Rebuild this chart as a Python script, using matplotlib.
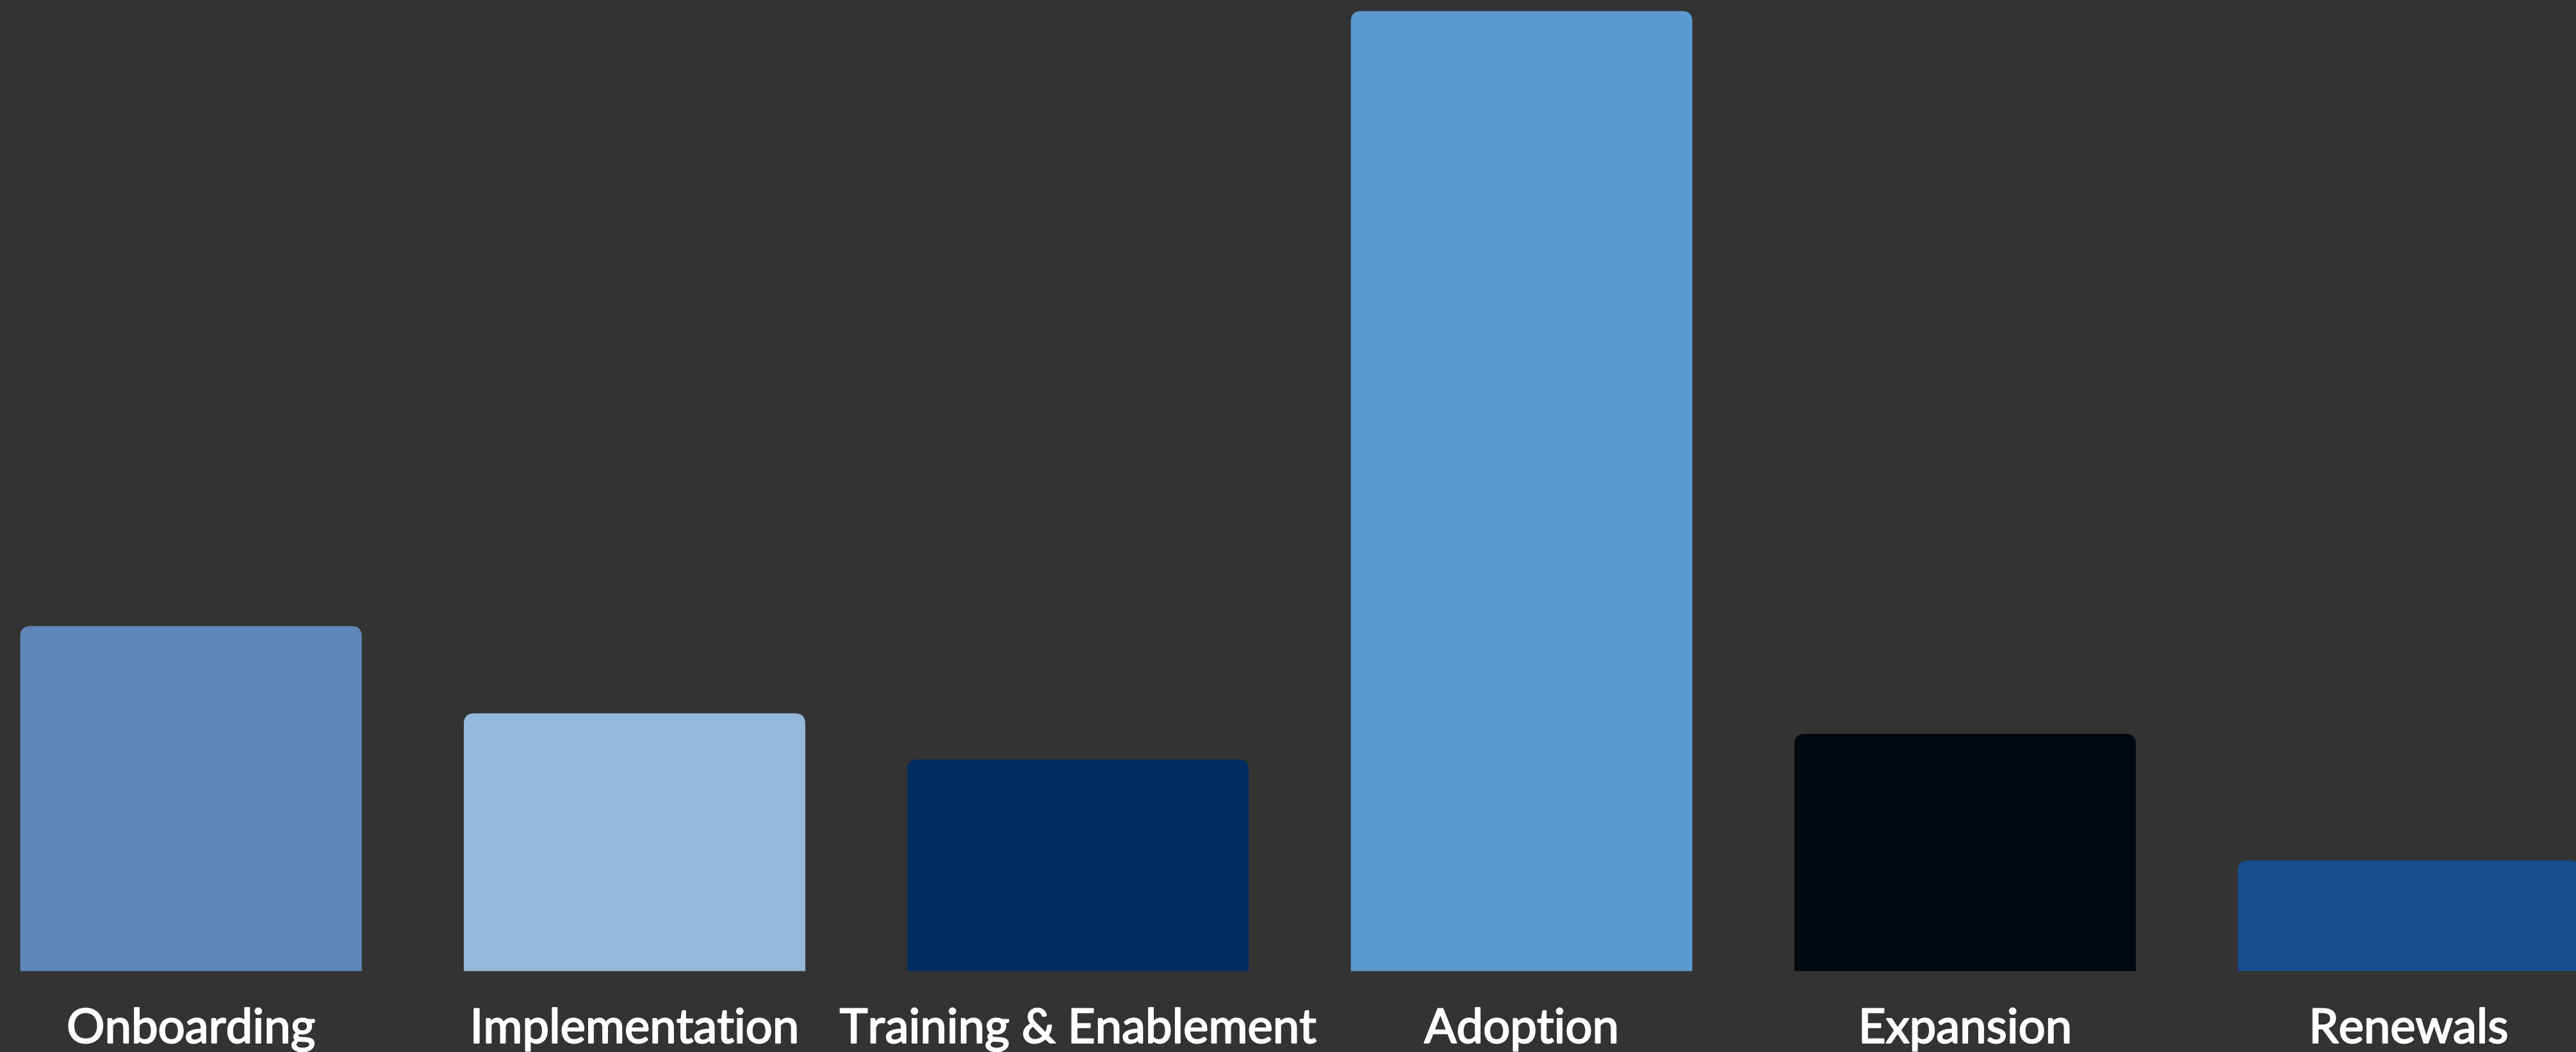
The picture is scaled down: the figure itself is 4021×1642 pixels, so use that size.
import matplotlib
matplotlib.use("Agg")
import matplotlib.pyplot as plt
import matplotlib.patheffects as pe
from matplotlib.path import Path
from matplotlib.patches import PathPatch

# Stage names and their values
stages = ["Onboarding", "Implementation", "Training & Enablement",
          "Adoption", "Expansion", "Renewals"]
values = [16.17, 12.08, 9.92, 45.0, 11.12, 5.19]
bar_colors = ["#5E87B8", "#94B8DB", "#002C60", "#5B9ACF", "#02080F", "#174C8D"]

BG = "#333333"
W, H, DPI = 4021, 1642, 100

fig = plt.figure(figsize=(W / DPI, H / DPI), dpi=DPI, facecolor=BG)
base_frac = (H - 1515.7) / H
ax = fig.add_axes([0, base_frac, 1, 1 - base_frac])
ax.set_facecolor(BG)

x_lo, x_hi = -0.4307, 5.3774
y_top = 45.52
ax.set_xlim(x_lo, x_hi)
ax.set_ylim(0, y_top)
ax.axis("off")

bar_w = 0.77
radius_px = 16
px_per_x = W / (x_hi - x_lo)
px_per_y = 1515.7 / y_top
rx = radius_px / px_per_x
ry = radius_px / px_per_y


def rounded_top_bar(xc, h, w):
    """Bar outline with rounded top corners, flat base."""
    x0, x1 = xc - w / 2, xc + w / 2
    verts = [
        (x0, 0), (x0, h - ry), (x0, h), (x0 + rx, h),
        (x1 - rx, h), (x1, h), (x1, h - ry),
        (x1, 0), (x0, 0),
    ]
    codes = [
        Path.MOVETO, Path.LINETO, Path.CURVE3, Path.CURVE3,
        Path.LINETO, Path.CURVE3, Path.CURVE3,
        Path.LINETO, Path.CLOSEPOLY,
    ]
    return Path(verts, codes)


for i, (v, c) in enumerate(zip(values, bar_colors)):
    patch = PathPatch(rounded_top_bar(i, v, bar_w), facecolor=c,
                      edgecolor="none", clip_on=False)
    ax.add_patch(patch)

label_effects = [pe.Stroke(linewidth=1.6, foreground="white"), pe.Normal()]
for i, name in enumerate(stages):
    ax.annotate(name, xy=(i, 0), xycoords="data",
                xytext=(0, -112), textcoords="offset pixels",
                ha="center", va="baseline", color="white",
                fontsize=53.5, fontweight="normal",
                family=["Lato", "DejaVu Sans"], annotation_clip=False,
                path_effects=label_effects)

fig.savefig("out.png", dpi=DPI, facecolor=BG)
